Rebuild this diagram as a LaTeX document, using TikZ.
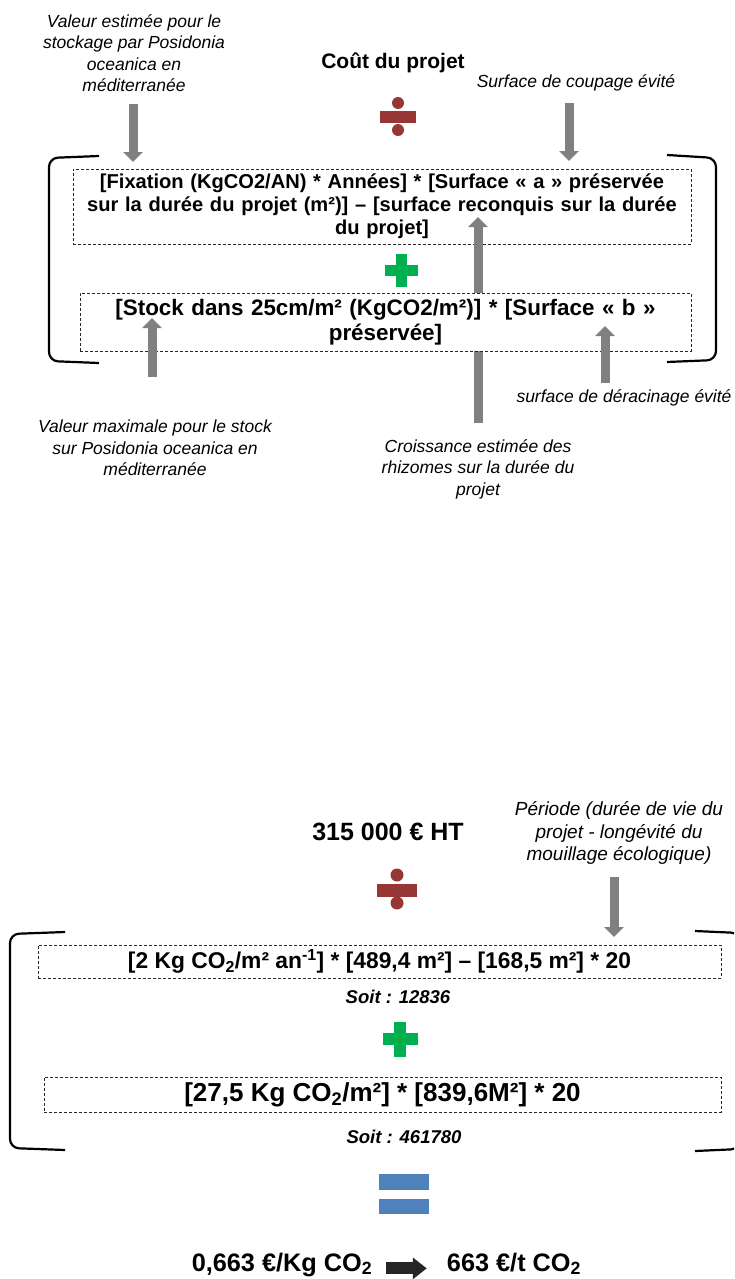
\documentclass[tikz,border=0pt]{standalone}
\usepackage{fontspec}
\setmainfont{Liberation Sans}
\usetikzlibrary{arrows.meta}
\definecolor{arrowGray}{RGB}{128,128,128}
\definecolor{divRed}{RGB}{150,55,53}
\definecolor{plusGreen}{RGB}{0,176,80}
\definecolor{eqBlue}{RGB}{79,129,189}
\definecolor{blockBlack}{RGB}{38,38,38}

\begin{document}
\begin{tikzpicture}[x=1pt,y=-1pt,
  grayarrow/.style={draw=arrowGray,line width=9pt,-{Triangle[length=10pt,width=19pt]}},
  blockarrow/.style={draw=blockBlack,line width=12pt,-{Triangle[length=14pt,width=21pt]}},
  dashbox/.style={draw=black!85,dash pattern=on 3pt off 2pt,line width=0.8pt,fill=white,inner sep=0pt,align=center},
  bracket/.style={draw=black,line width=2.2pt,rounded corners=9pt},
  note/.style={align=center,inner sep=0pt,font=\itshape\fontsize{17.5}{21.5}\selectfont},
  title/.style={inner sep=0pt,font=\bfseries\fontsize{21}{25}\selectfont},
  soit/.style={inner sep=0pt,font=\bfseries\itshape\fontsize{18.5}{22}\selectfont}]
\path[use as bounding box] (0,0) rectangle (734,1279);
\clip (0,0) rectangle (734,1279);

% ---- formule generale
\node[note] (lblStockage) at (134,53) {Valeur estimée pour le\\stockage par Posidonia\\oceanica en\\méditerranée};
\node[title] (coutTitle) at (393,63) {Coût du projet};
\node[note] (lblCoupage) at (576,83) {Surface de coupage évité};

\fill[divRed] (380,111) rectangle (416,123);
\fill[divRed] (398,103) circle[radius=6pt];
\fill[divRed] (398,130) circle[radius=6pt];

\draw[bracket] (99,156) -- (49,158) -- (49,361) -- (99,363);
\draw[bracket] (667,155) -- (716,158) -- (716,360) -- (667,362);

\node[dashbox,text width=618pt,minimum height=75pt,font=\bfseries\fontsize{20.1}{23}\selectfont] (boxFixation) at (382,206.5)
  {[Fixation (KgCO2/AN) * Années] * [Surface « a » préservée\\sur la durée du projet (m²)] – [surface reconquis sur la durée\\du projet]};

\fill[plusGreen] (384.5,264.5) rectangle (417.5,275.5);
\fill[plusGreen] (395.5,253.5) rectangle (406.5,286.5);

\coordinate (croisStart) at (478,423);
\coordinate (croisTip) at (478,217);
\draw[grayarrow] (croisStart) -- (croisTip);

\node[dashbox,text width=611pt,minimum height=58pt,font=\bfseries\fontsize{22.4}{24.5}\selectfont] (boxStock) at (385.5,322)
  {[Stock dans 25cm/m² (KgCO2/m²)] * [Surface « b »\\préservée]};

\coordinate (stockStart) at (133,104);
\coordinate (stockTip) at (133,162);
\coordinate (coupStart) at (569,103);
\coordinate (coupTip) at (569,161);
\coordinate (maxStart) at (152,377);
\coordinate (maxTip) at (152,318);
\coordinate (deracStart) at (605,383);
\coordinate (deracTip) at (605,326);
\draw[grayarrow] (stockStart) -- (stockTip);
\draw[grayarrow] (coupStart) -- (coupTip);
\draw[grayarrow] (maxStart) -- (maxTip);
\draw[grayarrow] (deracStart) -- (deracTip);

\node[note] (lblDerac) at (624,398) {surface de déracinage évité};
\node[note] (lblMax) at (155,448) {Valeur maximale pour le stock\\sur Posidonia oceanica en\\méditerranée};
\node[note] (lblCrois) at (478,469) {Croissance estimée des\\rhizomes sur la durée du\\projet};

% ---- application numerique
\node[title,font=\bfseries\fontsize{25}{29}\selectfont] (coutHT) at (388,832) {315 000 € HT};
\node[note,font=\itshape\fontsize{19}{22.5}\selectfont] (lblPeriode) at (619,833) {Période (durée de vie du\\projet - longévité du\\mouillage écologique)};

\fill[divRed] (377,883.5) rectangle (417,896.5);
\fill[divRed] (397,875) circle[radius=6.5pt];
\fill[divRed] (397,903) circle[radius=6.5pt];

\coordinate (periodeStart) at (614,877);
\coordinate (periodeTip) at (614,937);
\draw[grayarrow] (periodeStart) -- (periodeTip);

\draw[bracket] (65,932) -- (10,934) -- (10,1148) -- (65,1150);
\draw[bracket] (695,931) -- (740,933) -- (740,1149) -- (695,1151);

\node[dashbox,minimum width=683pt,minimum height=33pt,font=\bfseries\fontsize{22.8}{25}\selectfont] (boxFixNum) at (379.5,961.5)
  {[2 Kg CO\textsubscript{2}/m² an\textsuperscript{-1}] * [489,4 m²] – [168,5 m²] * 20};
\node[soit] (soitFix) at (398,997) {Soit : 12836};

\fill[plusGreen] (382.5,1032.75) rectangle (417.5,1045.25);
\fill[plusGreen] (393.75,1021.5) rectangle (406.25,1056.5);

\node[dashbox,minimum width=677pt,minimum height=35pt,font=\bfseries\fontsize{26}{29}\selectfont] (boxStockNum) at (382.5,1094.5)
  {[27,5 Kg CO\textsubscript{2}/m²] * [839,6M²] * 20};
\node[soit] (soitStock) at (404,1137) {Soit : 461780};

\fill[eqBlue] (379,1174) rectangle (429,1190);
\fill[eqBlue] (379,1199) rectangle (429,1214);

\node[inner sep=0pt,anchor=base,font=\bfseries\fontsize{25.3}{29}\selectfont] (resKg) at (282,1271) {0,663 €/Kg CO\textsubscript{2}};
\node[inner sep=0pt,anchor=base,font=\bfseries\fontsize{25.3}{29}\selectfont] (resT) at (514,1271) {663 €/t CO\textsubscript{2}};
\draw[blockarrow,shorten <=14pt,shorten >=20pt] (resKg.mid east) -- (resT.mid west);
\end{tikzpicture}
\end{document}
